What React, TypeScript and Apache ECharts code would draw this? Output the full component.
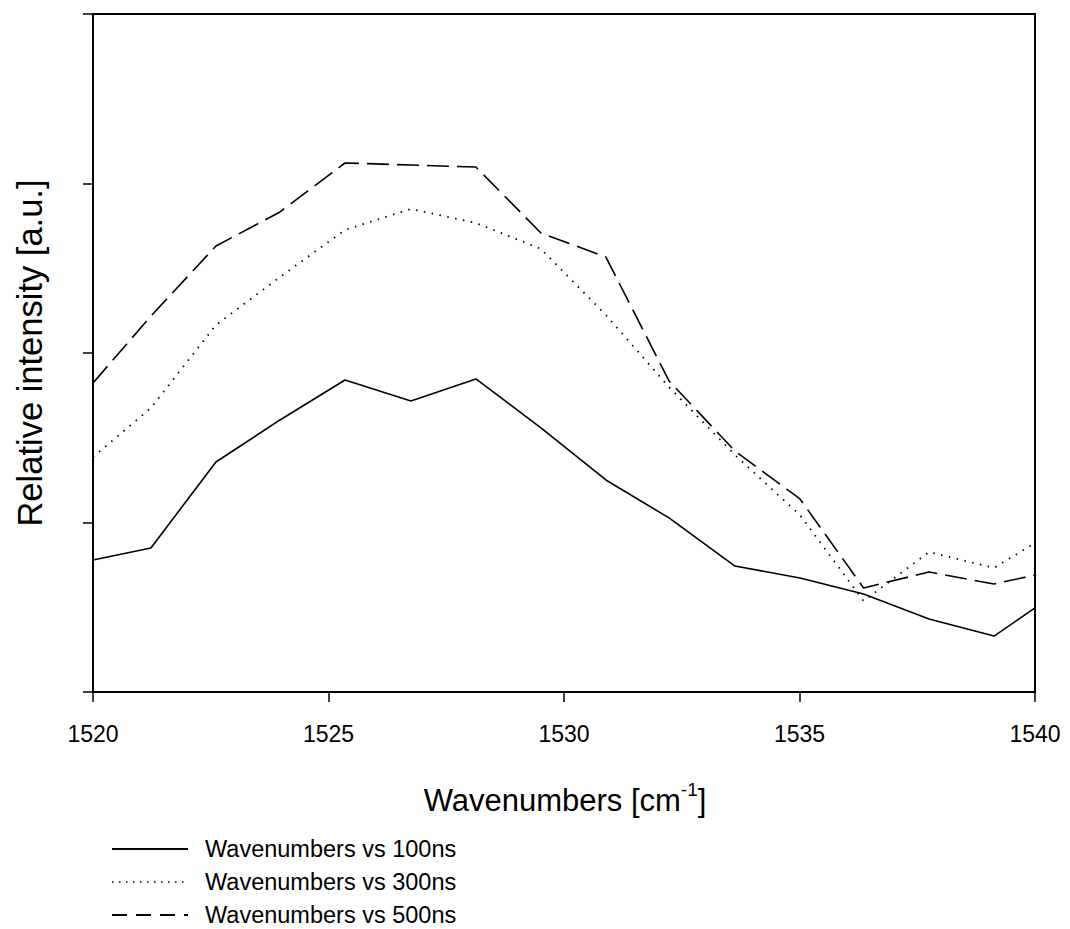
import React, { useEffect, useRef } from "react";
import * as echarts from "echarts";

const wavenumbers = [1520, 1521.23, 1522.61, 1523.97, 1525.35, 1526.75, 1528.13, 1529.51, 1530.89, 1532.23, 1533.63, 1535.01, 1536.36, 1537.75, 1539.13, 1540];
const ns100 = [0.779, 0.85, 1.357, 1.605, 1.841, 1.717, 1.847, 1.558, 1.251, 1.027, 0.743, 0.673, 0.578, 0.431, 0.33, 0.496];
const ns300 = [1.386, 1.676, 2.165, 2.448, 2.726, 2.85, 2.767, 2.614, 2.224, 1.799, 1.398, 1.044, 0.537, 0.826, 0.732, 0.879];
const ns500 = [1.823, 2.218, 2.631, 2.832, 3.121, 3.109, 3.097, 2.708, 2.566, 1.835, 1.422, 1.139, 0.614, 0.708, 0.637, 0.69];
const seriesNames = ["Wavenumbers vs 100ns", "Wavenumbers vs 300ns", "Wavenumbers vs 500ns"];
const xTitle = "Wavenumbers [cm{sup|-1}]";
const yTitle = "Relative intensity [a.u.]";

const font = "Arial, 'Liberation Sans', sans-serif";

export default function App() {
  const ref = useRef<HTMLDivElement>(null);
  useEffect(() => {
    const chart = echarts.init(ref.current!, null, { renderer: "svg" });
    const pts = (arr: number[]) => wavenumbers.map((x, i) => [x, arr[i]]);
    const axisLine = { show: true, lineStyle: { color: "#000", width: 2 } };
    const axisTick = { show: true, inside: false, length: 10, lineStyle: { color: "#000", width: 1.5 } };
    chart.setOption({
      animation: false,
      backgroundColor: "#fff",
      grid: { left: 93, right: 35, top: 14, bottom: 237, show: true, borderColor: "#000", borderWidth: 2 },
      xAxis: {
        type: "value", min: 1520, max: 1540, interval: 5,
        axisLine, axisTick,
        axisLabel: { fontSize: 23, color: "#000", fontFamily: font, margin: 30, formatter: (v: number) => String(v) },
        splitLine: { show: false },
      },
      yAxis: {
        type: "value", min: 0, max: 4, interval: 1,
        axisLine, axisTick,
        axisLabel: { show: false },
        splitLine: { show: false },
      },
      legend: {
        orient: "vertical", left: 106, top: 832, height: 120,
        itemWidth: 76, itemHeight: 14, itemGap: 9,
        data: [
          { name: seriesNames[0] },
          { name: seriesNames[1], lineStyle: { type: [1.5, 5.5], width: 1.5 } },
          { name: seriesNames[2], lineStyle: { type: [15, 9] } },
        ],
        itemStyle: { opacity: 0 },
        textStyle: { fontSize: 23.5, color: "#000", fontFamily: font, padding: [0, 0, 0, 12] },
      },
      series: [
        { name: seriesNames[0], type: "line", data: pts(ns100), symbol: "none", lineStyle: { color: "#000", width: 1.6, type: "solid" } },
        { name: seriesNames[1], type: "line", data: pts(ns300), symbol: "none", lineStyle: { color: "#000", width: 1.8, type: [1.5, 6.5] } },
        { name: seriesNames[2], type: "line", data: pts(ns500), symbol: "none", lineStyle: { color: "#000", width: 1.6, type: [22, 8] } },
      ],
      graphic: [
        {
          type: "text", x: 565, y: 800,
          style: {
            text: xTitle, fontSize: 31, fontFamily: font, fill: "#000", align: "center", verticalAlign: "middle",
            rich: { sup: { fontSize: 19, fontFamily: font, fill: "#000", padding: [0, 0, 22, 0] } },
          },
        },
        {
          type: "text", x: 30, y: 353, rotation: Math.PI / 2,
          style: { text: yTitle, fontSize: 34.5, fontFamily: font, fill: "#000", align: "center", verticalAlign: "middle" },
        },
      ],
    });
    return () => chart.dispose();
  }, []);
  return <div ref={ref} style={{ position: "absolute", left: 0, top: 0, width: 1070, height: 929 }} />;
}
